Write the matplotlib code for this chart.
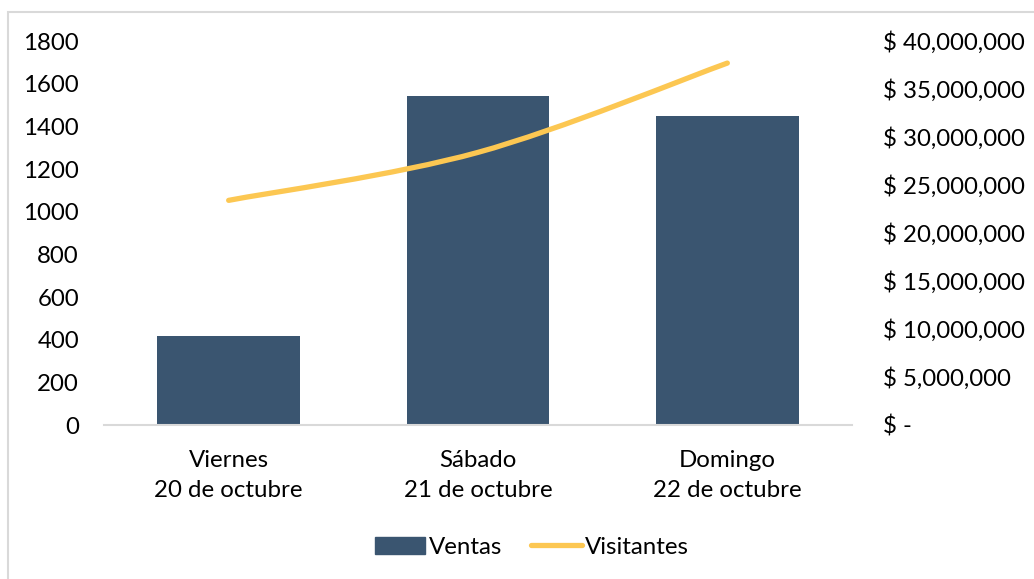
import matplotlib
matplotlib.use("Agg")
import matplotlib.pyplot as plt
from matplotlib.path import Path
from matplotlib.patches import PathPatch, Rectangle
from matplotlib.lines import Line2D
from matplotlib.ticker import FuncFormatter

dias = ["Viernes\n20 de octubre", "Sábado\n21 de octubre", "Domingo\n22 de octubre"]
ventas = [417, 1542, 1450]
visitantes = [23_400_000, 28_400_000, 37_700_000]

color_barra = "#3a5570"
color_linea = "#fcc752"
color_gris = "#d9d9d9"

plt.rcParams["font.family"] = ["Lato", "DejaVu Sans"]
plt.rcParams["font.size"] = 17.3

fig = plt.figure(figsize=(10.34, 5.79), dpi=100)
ax = fig.add_axes([104 / 1034, 1 - 425 / 579, (852 - 104) / 1034, (425 - 41) / 579])
ax2 = ax.twinx()

x = list(range(len(dias)))
ax.bar(x, ventas, width=0.573, color=color_barra, zorder=2)
ax.set_xlim(-0.5, 2.5)
ax.set_ylim(0, 1800)
ax.set_yticks(range(0, 1801, 200))
ax.set_xticks(x)
ax.set_xticklabels(dias, linespacing=1.55)

# smoothed line (bezier through the points, like a spreadsheet "smooth line")
pts = list(zip(x, visitantes))
verts = [pts[0]]
codes = [Path.MOVETO]
for i in range(len(pts) - 1):
    p_prev = pts[i - 1] if i > 0 else pts[i]
    p0 = pts[i]
    p1 = pts[i + 1]
    p_next = pts[i + 2] if i + 2 < len(pts) else pts[i + 1]
    c1 = (p0[0] + (p1[0] - p_prev[0]) / 6, p0[1] + (p1[1] - p_prev[1]) / 6)
    c2 = (p1[0] - (p_next[0] - p0[0]) / 6, p1[1] - (p_next[1] - p0[1]) / 6)
    verts += [c1, c2, p1]
    codes += [Path.CURVE4] * 3
ax2.add_patch(PathPatch(Path(verts, codes), facecolor="none", edgecolor=color_linea,
                        lw=3.8, capstyle="round", joinstyle="round", zorder=3))
ax2.set_ylim(0, 40_000_000)
ax2.set_yticks(range(0, 40_000_001, 5_000_000))
ax2.yaxis.set_major_formatter(FuncFormatter(lambda v, p: "$ -" if v == 0 else f"$ {v:,.0f}"))

for a in (ax, ax2):
    for s in a.spines.values():
        s.set_visible(False)
    a.tick_params(length=0, colors="black")
ax.spines["bottom"].set_visible(True)
ax.spines["bottom"].set_color(color_gris)
ax.spines["bottom"].set_linewidth(1.5)
ax.tick_params(axis="y", pad=18)
ax.tick_params(axis="x", pad=18)
ax2.tick_params(axis="y", pad=22)
for lbl in ax2.get_yticklabels():
    lbl.set_horizontalalignment("left")

handles = [Rectangle((0, 0), 1, 1, color=color_barra),
           Line2D([], [], color=color_linea, lw=3.8, solid_capstyle="round")]
fig.legend(handles, ["Ventas", "Visitantes"], loc="center", bbox_to_anchor=(532 / 1034, 1 - 547 / 579),
           ncol=2, frameon=False, handlelength=2.1, handletextpad=0.15, columnspacing=1.2)

# chart border
fig.patches.append(Rectangle((8 / 1034, -0.1), 2, (579 - 12) / 579 + 0.1, transform=fig.transFigure,
                             fill=False, edgecolor=color_gris, lw=1.5))

fig.savefig("out.png", dpi=100)
